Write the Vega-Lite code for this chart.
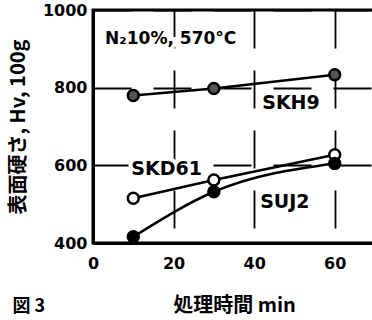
{
  "$schema": "https://vega.github.io/schema/vega-lite/v6.json",
  "width": 282,
  "height": 233,
  "autosize": {"type": "none"},
  "padding": {"left": 93, "top": 10, "right": 0, "bottom": 77},
  "background": "white",
  "config": {
    "view": {"stroke": "black", "strokeWidth": 3},
    "font": "DejaVu Sans",
    "axis": {
      "domainColor": "black", "domainWidth": 3,
      "labelColor": "black", "labelFont": "DejaVu Sans", "labelFontWeight": "bold", "labelFontSize": 16,
      "titleColor": "black", "titleFont": "Noto Sans CJK JP", "titleFontWeight": "bold", "titleFontSize": 20,
      "gridColor": "black", "gridWidth": 1.8, "gridOpacity": 1, "gridDash": [38, 22],
      "ticks": false
    }
  },
  "datasets": {
    "series": [
      {"t": 10, "hv": 780, "steel": "SKH9"},
      {"t": 30, "hv": 798, "steel": "SKH9"},
      {"t": 60, "hv": 833, "steel": "SKH9"},
      {"t": 10, "hv": 515, "steel": "SKD61"},
      {"t": 30, "hv": 562, "steel": "SKD61"},
      {"t": 60, "hv": 627, "steel": "SKD61"},
      {"t": 10, "hv": 416, "steel": "SUJ2"},
      {"t": 30, "hv": 532, "steel": "SUJ2"},
      {"t": 60, "hv": 605, "steel": "SUJ2"}
    ],
    "labels": [
      {"t": 3, "hv": 925, "text": "N\u208210%, 570°C", "size": 17},
      {"t": 42, "hv": 760, "text": "SKH9", "size": 19},
      {"t": 9.5, "hv": 590, "text": "SKD61", "size": 19},
      {"t": 41.5, "hv": 505, "text": "SUJ2", "size": 19}
    ],
    "fig": [
      {"t": -20, "hv": 234, "text": "図 3"}
    ]
  },
  "layer": [
    {
      "data": {"name": "series"},
      "transform": [{"filter": "datum.steel !== 'SUJ2'"}],
      "mark": {"type": "line", "color": "black", "strokeWidth": 2.5},
      "encoding": {
        "x": {"field": "t", "type": "quantitative", "scale": {"domain": [0, 70]},
          "axis": {"values": [0, 20, 40, 60], "grid": true, "labelPadding": 12, "title": "処理時間 min", "titlePadding": 24, "labelAlign": "center"}},
        "y": {"field": "hv", "type": "quantitative", "scale": {"domain": [400, 1000]},
          "axis": {"values": [400, 600, 800, 1000], "format": "d", "grid": true, "labelPadding": 6, "title": "表面硬さ, Hv, 100g", "titlePadding": 14}},
        "detail": {"field": "steel"}
      }
    },
    {
      "data": {"name": "series"},
      "transform": [{"filter": "datum.steel === 'SUJ2'"}],
      "mark": {"type": "line", "color": "black", "strokeWidth": 2.5, "interpolate": "monotone"},
      "encoding": {
        "x": {"field": "t", "type": "quantitative"},
        "y": {"field": "hv", "type": "quantitative"}
      }
    },
    {
      "data": {"name": "labels"},
      "mark": {"type": "text", "align": "left", "baseline": "middle", "fontWeight": "bold", "stroke": "white", "strokeWidth": 8, "font": "DejaVu Sans"},
      "encoding": {
        "x": {"field": "t", "type": "quantitative"},
        "y": {"field": "hv", "type": "quantitative"},
        "text": {"field": "text"},
        "size": {"field": "size", "type": "quantitative", "scale": null}
      }
    },
    {
      "data": {"name": "labels"},
      "mark": {"type": "text", "align": "left", "baseline": "middle", "fontWeight": "bold", "color": "black", "font": "DejaVu Sans"},
      "encoding": {
        "x": {"field": "t", "type": "quantitative"},
        "y": {"field": "hv", "type": "quantitative"},
        "text": {"field": "text"},
        "size": {"field": "size", "type": "quantitative", "scale": null}
      }
    },
    {
      "data": {"name": "series"},
      "mark": {"type": "point", "size": 120, "strokeWidth": 2.5, "opacity": 1},
      "encoding": {
        "x": {"field": "t", "type": "quantitative"},
        "y": {"field": "hv", "type": "quantitative"},
        "shape": {"value": "circle"},
        "stroke": {"value": "black"},
        "fill": {"field": "steel", "type": "nominal", "scale": {"domain": ["SKH9", "SKD61", "SUJ2"], "range": ["#555555", "white", "black"]}, "legend": null}
      }
    },
    {
      "data": {"name": "fig"},
      "mark": {"type": "text", "align": "left", "baseline": "middle", "fontWeight": "bold", "fontSize": 18, "font": "Noto Sans CJK JP", "color": "black"},
      "encoding": {
        "x": {"field": "t", "type": "quantitative"},
        "y": {"field": "hv", "type": "quantitative"},
        "text": {"field": "text"}
      }
    }
  ]
}
